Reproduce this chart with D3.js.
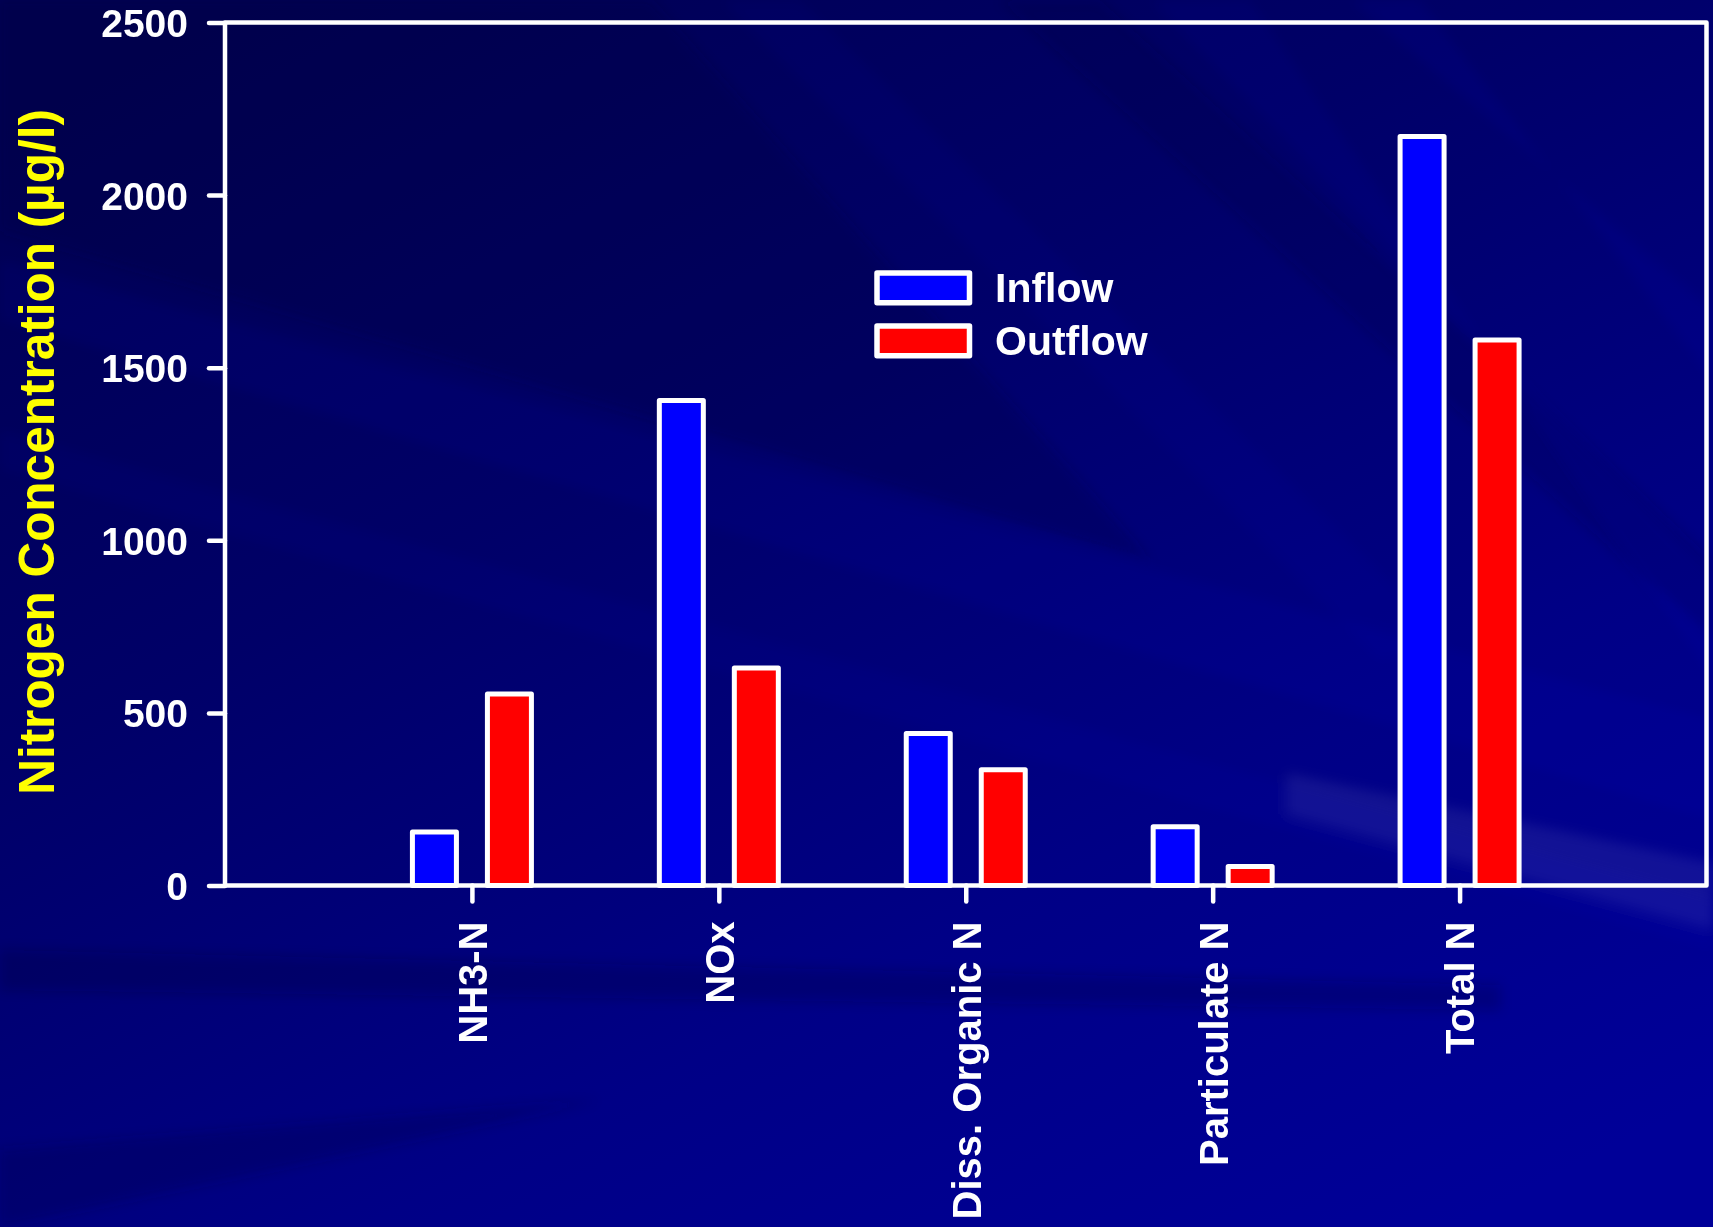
<!DOCTYPE html>
<html>
<head>
<meta charset="utf-8">
<script src="https://cdn.jsdelivr.net/npm/d3@7"></script>
<style>
  html, body { margin: 0; padding: 0; background: #000070; overflow: hidden; }
  svg { display: block; }
</style>
</head>
<body>
<svg id="chart" width="1713" height="1227"></svg>
<script>
// Nitrogen species, inflow vs outflow (µg/l)
const categories = ["NH3-N", "NOx", "Diss. Organic N", "Particulate N", "Total N"];
const inflow = [155, 1405, 440, 170, 2170];
const outflow = [555, 630, 335, 55, 1580];
const yTicks = [0, 500, 1000, 1500, 2000, 2500];
const seriesNames = ["Inflow", "Outflow"];
const seriesColors = ["#0000ff", "#ff0000"];
const yTitle = "Nitrogen Concentration (µg/l)";

const W = 1713, H = 1227;
const plot = { left: 225, right: 1706.5, top: 22.5, bottom: 885.5 };
const FONT = "'Liberation Sans', Arial, Helvetica, sans-serif";

const svg = d3.select("#chart");
const defs = svg.append("defs");

// ---- backdrop: deep blue wash with soft diagonal streaks ----
const bg = defs.append("linearGradient").attr("id", "bgGrad")
  .attr("x1", 0.15).attr("y1", 0).attr("x2", 0.85).attr("y2", 1);
bg.append("stop").attr("offset", 0).attr("stop-color", "#000052");
bg.append("stop").attr("offset", 0.35).attr("stop-color", "#000068");
bg.append("stop").attr("offset", 0.7).attr("stop-color", "#000086");
bg.append("stop").attr("offset", 1).attr("stop-color", "#000098");
svg.append("rect").attr("width", W).attr("height", H).attr("fill", "url(#bgGrad)");

defs.append("filter").attr("id", "soft")
  .attr("x", "-10%").attr("y", "-10%").attr("width", "120%").attr("height", "120%")
  .append("feGaussianBlur").attr("stdDeviation", 6);

const streaks = [
  // lighter bands
  { pts: [[0, 260], [0, 320], [1713, 820], [1713, 720]], fill: "#2020ff", op: 0.05 },
  { pts: [[0, 430], [0, 470], [1713, 950], [1713, 900]], fill: "#2020ff", op: 0.04 },
  { pts: [[1150, 0], [1250, 0], [1713, 680], [1713, 580]], fill: "#3030ff", op: 0.05 },
  { pts: [[1350, 0], [1420, 0], [1713, 380], [1713, 310]], fill: "#3030ff", op: 0.06 },
  { pts: [[720, 0], [800, 0], [1450, 640], [1380, 660]], fill: "#2020ff", op: 0.04 },
  { pts: [[1287, 773], [1713, 863], [1713, 929], [1287, 814]], fill: "#ffffff", op: 0.07 },
  // darker bands
  { pts: [[0, 0], [650, 0], [1150, 560], [0, 230]], fill: "#000030", op: 0.2 },
  { pts: [[0, 950], [0, 990], [1500, 1010], [1500, 985]], fill: "#000030", op: 0.18 },
  { pts: [[1000, 0], [1100, 0], [1713, 560], [1713, 640]], fill: "#000030", op: 0.14 },
  { pts: [[0, 1150], [600, 1100], [0, 1227]], fill: "#000030", op: 0.2 }
];
svg.append("g").attr("filter", "url(#soft)")
  .selectAll("polygon").data(streaks).join("polygon")
  .attr("points", d => d.pts.map(p => p.join(",")).join(" "))
  .attr("fill", d => d.fill)
  .attr("opacity", d => d.op);

// ---- scales ----
const x = d3.scalePoint().domain(categories).range([plot.left, plot.right]).padding(1);
const y = d3.scaleLinear().domain([0, 2500]).range([plot.bottom, plot.top]);

const barW = 44, barOffset = 37.5, barStroke = 5;
const rows = categories.map((c, i) => ({ cat: c, values: [inflow[i], outflow[i]] }));

// ---- bars ----
const gBars = svg.append("g");
rows.forEach(r => {
  r.values.forEach((v, s) => {
    const cx = x(r.cat) + (s === 0 ? -barOffset : barOffset);
    gBars.append("rect")
      .attr("x", cx - barW / 2)
      .attr("y", y(v))
      .attr("width", barW)
      .attr("height", y(0) - y(v))
      .attr("fill", seriesColors[s])
      .attr("stroke", "#ffffff")
      .attr("stroke-width", barStroke)
      .attr("stroke-linejoin", "round");
  });
});

// ---- frame ----
svg.append("rect")
  .attr("x", plot.left).attr("y", plot.top)
  .attr("width", plot.right - plot.left).attr("height", plot.bottom - plot.top)
  .attr("fill", "none").attr("stroke", "#ffffff").attr("stroke-width", 4.5)
  .attr("stroke-linejoin", "round");

// ---- y axis ----
const yAxis = d3.axisLeft(y).tickValues(yTicks).tickSize(16).tickPadding(21).tickFormat(d3.format("d"));
const gy = svg.append("g").attr("transform", `translate(${plot.left},0)`).call(yAxis);
gy.select(".domain").remove();
gy.selectAll(".tick line").attr("stroke", "#ffffff").attr("stroke-width", 4.5).attr("stroke-linecap", "round");
gy.selectAll(".tick text")
  .attr("fill", "#ffffff")
  .style("font-family", FONT).style("font-weight", "bold").style("font-size", "39px")
  .attr("dy", "0.36em");

// ---- x axis ----
const xAxis = d3.axisBottom(x).tickSize(16).tickPadding(0);
const gx = svg.append("g").attr("transform", `translate(0,${plot.bottom})`).call(xAxis);
gx.select(".domain").remove();
gx.selectAll(".tick line").attr("stroke", "#ffffff").attr("stroke-width", 4.5).attr("stroke-linecap", "round");
gx.selectAll(".tick text")
  .attr("fill", "#ffffff")
  .style("font-family", FONT).style("font-weight", "bold").style("font-size", "40px")
  .attr("text-anchor", "end")
  .attr("transform", "rotate(-90)")
  .attr("x", -36)
  .attr("y", 0)
  .attr("dy", "0.36em");

// ---- y title ----
svg.append("text")
  .attr("transform", "translate(36,452) rotate(-90)")
  .attr("text-anchor", "middle")
  .attr("dy", "0.36em")
  .attr("fill", "#ffff00")
  .style("font-family", FONT).style("font-weight", "bold").style("font-size", "49.5px")
  .text(yTitle);

// ---- legend ----
const legend = svg.append("g").attr("transform", "translate(877,273)");
seriesNames.forEach((name, i) => {
  const g = legend.append("g").attr("transform", `translate(0,${i * 53})`);
  g.append("rect").attr("width", 92.5).attr("height", 29.8)
    .attr("fill", seriesColors[i]).attr("stroke", "#ffffff").attr("stroke-width", 5.5)
    .attr("stroke-linejoin", "round");
  g.append("text").attr("x", 118).attr("y", 29)
    .attr("fill", "#ffffff")
    .style("font-family", FONT).style("font-weight", "bold").style("font-size", "41px")
    .text(name);
});
</script>
</body>
</html>
